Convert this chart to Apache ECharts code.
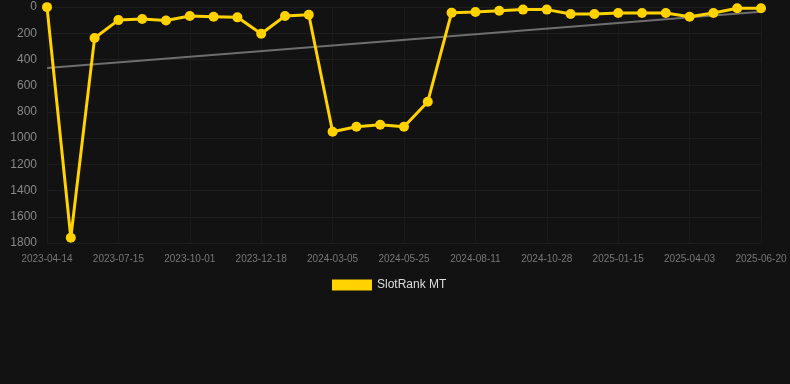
<!DOCTYPE html>
<html>
<head>
<meta charset="utf-8">
<script src="https://cdn.jsdelivr.net/npm/echarts@6/dist/echarts.min.js"></script>
<style>
html, body { margin: 0; padding: 0; background: #121212; }
#chart { width: 790px; height: 384px; }
</style>
</head>
<body>
<div id="chart"></div>
<script>
//*************** data ***************
var dates = [
    '2023-04-14', '2023-05-15', '2023-06-14', '2023-07-15', '2023-08-10', '2023-09-05',
    '2023-10-01', '2023-10-27', '2023-11-22', '2023-12-18', '2024-01-13', '2024-02-08',
    '2024-03-05', '2024-04-01', '2024-04-28', '2024-05-25', '2024-06-20', '2024-07-16',
    '2024-08-11', '2024-09-06', '2024-10-02', '2024-10-28', '2024-11-23', '2024-12-20',
    '2025-01-15', '2025-02-10', '2025-03-08', '2025-04-03', '2025-04-29', '2025-05-25',
    '2025-06-20'
];
var rank_mt = [
    1, 1760, 236, 100, 92, 103,
    69, 74, 79, 204, 69, 59,
    951, 913, 898, 913, 722, 43,
    38, 28, 20, 20, 53, 53,
    46, 46, 46, 74, 46, 10,
    10
];
// trend line: only its two ends are known
var trend_start = 465;
var trend_end = 36;

var trend = dates.map(function (d, i) {
    if (i === 0) return trend_start;
    if (i === dates.length - 1) return trend_end;
    return null;
});

//*************** chart ***************
var chart_dom = document.getElementById('chart');
var chart = echarts.init(chart_dom, null, {renderer: 'canvas'});

var options = {
    backgroundColor: '#121212',
    animation: false,
    grid: {
        left: 47,
        right: 29,
        top: 7,
        bottom: 141
    },
    legend: {
        data: [{name: 'SlotRank MT', icon: 'rect'}],
        top: 279,
        left: 332,
        itemWidth: 40,
        itemHeight: 11,
        itemGap: 10,
        padding: 0,
        textStyle: {color: '#dddddd', fontSize: 12, fontFamily: 'Liberation Sans, Arial, sans-serif'}
    },
    xAxis: {
        type: 'category',
        data: dates,
        boundaryGap: false,
        axisLine: {show: false},
        axisTick: {show: false},
        axisLabel: {
            interval: 2,
            color: '#777777',
            fontSize: 10,
            margin: 11,
            fontFamily: 'Liberation Sans, Arial, sans-serif'
        },
        splitLine: {
            show: true,
            interval: 2,
            lineStyle: {color: '#1a1a1a', width: 1}
        }
    },
    yAxis: {
        type: 'value',
        inverse: true,
        min: 0,
        max: 1800,
        interval: 200,
        axisLine: {show: false},
        axisTick: {show: false},
        axisLabel: {
            color: '#888888',
            fontSize: 12,
            margin: 10,
            fontFamily: 'Liberation Sans, Arial, sans-serif',
            formatter: function (v) { return String(v); }
        },
        splitLine: {lineStyle: {color: '#1e1e1e', width: 1}}
    },
    series: [
        {
            name: 'trend',
            type: 'line',
            data: trend,
            connectNulls: true,
            symbol: 'none',
            silent: true,
            lineStyle: {color: '#6e6e6e', width: 2},
            z: 1
        },
        {
            name: 'SlotRank MT',
            type: 'line',
            data: rank_mt,
            symbol: 'circle',
            symbolSize: 10,
            itemStyle: {color: '#FFD200'},
            lineStyle: {color: '#FFD200', width: 3},
            z: 3
        }
    ]
};

chart.setOption(options);
</script>
</body>
</html>
